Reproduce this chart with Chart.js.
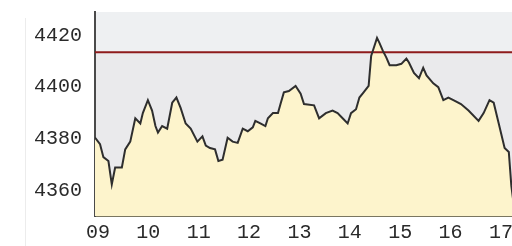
<!DOCTYPE html>
<html>
<head>
<meta charset="utf-8">
<script src="https://cdn.jsdelivr.net/npm/chart.js@4"></script>
<style>
  html, body { margin: 0; padding: 0; background: #fff; overflow: hidden; }
  #wrap { width: 530px; height: 246px; }
</style>
</head>
<body>
<div id="wrap"><canvas id="intraday"></canvas></div>
<script>
// minutes after 09:00 and index level
const minutes = [0, 6, 10, 16, 20, 24, 32, 36, 42, 48, 54, 57, 63, 68, 72, 75, 80, 86, 92, 97,
    102, 108, 114, 122, 128, 132, 137, 143, 147, 152, 158, 164, 170, 176, 182, 188, 191, 197, 203, 206,
    212, 218, 221, 225, 231, 239, 245, 249, 261, 267, 275, 283, 289, 295, 301, 305, 311, 315, 320, 326,
    329, 332, 336, 339, 343, 347, 351, 359, 365, 371, 374, 380, 386, 391, 395, 403, 409, 415, 421, 427,
    436, 445, 457, 463, 470, 475, 481, 488, 493, 496, 498];
const levels = [4380.5, 4378, 4373, 4371.5, 4362.5, 4369, 4369, 4376, 4379, 4388, 4386, 4390, 4395, 4391, 4385, 4382.5, 4385, 4384, 4394, 4396,
    4392, 4386, 4384, 4379, 4381, 4377.5, 4376.5, 4376, 4371.5, 4372, 4380.5, 4379, 4378.5, 4384, 4383, 4384.5, 4387, 4386, 4385, 4388,
    4390, 4390, 4393.5, 4398, 4398.5, 4400.5, 4397.5, 4393.5, 4393, 4388, 4390, 4391, 4390, 4388, 4386, 4390, 4391.5, 4396, 4398, 4400.5,
    4412, 4415, 4419, 4417, 4414, 4411.5, 4408.5, 4408.5, 4409, 4411, 4409.5, 4405.5, 4403.5, 4407.5, 4404.5, 4401.5, 4400, 4395, 4396, 4395,
    4393.5, 4391, 4387, 4390, 4395, 4394, 4386, 4376.5, 4375, 4362, 4357];
const referenceLevel = 4413.5;

const hourLabels = ['09', '10', '11', '12', '13', '14', '15', '16', '17'];
const hourTicks = [0, 60, 120, 180, 240, 300, 360, 420, 480];
const levelTicks = [4360, 4380, 4400, 4420];

const xMin = 0, xMax = 498;
const yMin = 4350.3, yMax = 4429;

const priceData = minutes.map((m, i) => ({ x: m, y: levels[i] }));
const refData = [{ x: xMin, y: referenceLevel }, { x: xMax, y: referenceLevel }];

// plot background + faint page border
const backdrop = {
    id: 'backdrop',
    beforeDraw(chart) {
        const { ctx, chartArea: a, scales } = chart;
        const yRef = scales.y.getPixelForValue(referenceLevel);
        ctx.save();
        ctx.fillStyle = '#eef0f2';
        ctx.fillRect(a.left, a.top, a.right - a.left, yRef - a.top);
        ctx.fillStyle = '#eaeaec';
        ctx.fillRect(a.left, yRef, a.right - a.left, a.bottom - yRef);
        ctx.strokeStyle = '#ececec';
        ctx.lineWidth = 1;
        ctx.beginPath();
        ctx.moveTo(25.5, 18);
        ctx.lineTo(25.5, 246);
        ctx.stroke();
        ctx.restore();
    }
};

const ctx = document.getElementById('intraday').getContext('2d');
new Chart(ctx, {
    type: 'line',
    data: {
        datasets: [{
            data: priceData,
            borderColor: '#2e2e2e',
            borderWidth: 2,
            backgroundColor: '#fdf4cc',
            fill: 'start',
            pointRadius: 0,
            tension: 0,
            order: 1
        }, {
            data: refData,
            borderColor: '#8e1b1b',
            borderWidth: 2,
            fill: false,
            pointRadius: 0,
            order: 2
        }]
    },
    options: {
        responsive: true,
        maintainAspectRatio: false,
        animation: false,
        layout: { padding: { top: 12, right: 17, left: 0, bottom: 0 } },
        plugins: {
            legend: { display: false },
            tooltip: { enabled: false },
            filler: { drawTime: 'beforeDatasetsDraw' }
        },
        scales: {
            x: {
                type: 'linear',
                min: xMin,
                max: xMax,
                grid: { display: false, drawTicks: false },
                border: { display: true, color: '#7a7660', width: 2 },
                afterBuildTicks: s => { s.ticks = hourTicks.map(v => ({ value: v })); },
                afterFit: s => { s.height = 30; },
                ticks: {
                    autoSkip: false,
                    maxRotation: 0,
                    padding: 5,
                    labelOffset: 3,
                    color: '#2a2a2a',
                    font: { family: '"Liberation Mono", monospace', size: 20 },
                    callback: v => hourLabels[hourTicks.indexOf(v)]
                }
            },
            y: {
                min: yMin,
                max: yMax,
                grid: { display: false, drawTicks: false },
                border: { display: true, color: '#4a4a4a', width: 2 },
                afterBuildTicks: s => { s.ticks = levelTicks.map(v => ({ value: v })); },
                afterFit: s => { s.width = 95; s.paddingTop = 0; s.paddingBottom = 0; },
                ticks: {
                    padding: 13,
                    color: '#2a2a2a',
                    font: { family: '"Liberation Mono", monospace', size: 20, lineHeight: 0.5 },
                    callback: v => String(v)
                }
            }
        }
    },
    plugins: [backdrop]
});
</script>
</body>
</html>
